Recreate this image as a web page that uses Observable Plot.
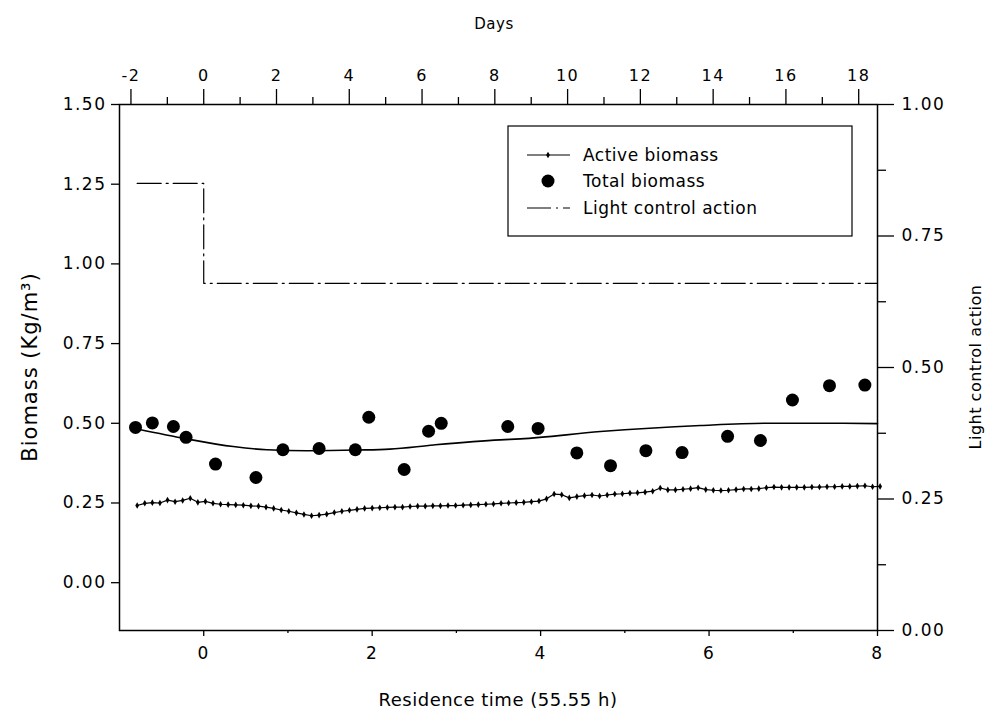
<!DOCTYPE html>
<html><head><meta charset="utf-8">
<script src="https://cdn.jsdelivr.net/npm/d3@7"></script>
<script src="https://cdn.jsdelivr.net/npm/@observablehq/plot@0.6"></script>
<style>
html,body{margin:0;padding:0;background:#fff;}
#chart svg text{letter-spacing:1.5px;}
#chart svg g.titles text, #chart svg g.legend text{letter-spacing:0.5px;}
#chart svg g.titles text.ytitle{letter-spacing:1px;}
</style></head><body><div id="chart"></div>
<script>
// ---- data ----
const hoursPerRT = 55.55;              // one residence time in hours
const activeStartRT = -0.79;           // first active-biomass sample (residence times)
const activeStepRT = 5 / hoursPerRT;   // samples every 5 h
const activeBiomass = [
  0.242,0.249,0.251,0.250,0.259,0.254,0.258,0.265,0.252,0.255,
  0.249,0.246,0.245,0.244,0.243,0.241,0.240,0.237,0.233,0.228,
  0.224,0.219,0.214,0.210,0.212,0.215,0.220,0.224,0.227,0.230,
  0.233,0.234,0.235,0.236,0.237,0.237,0.239,0.240,0.240,0.241,
  0.241,0.242,0.242,0.243,0.244,0.245,0.246,0.247,0.249,0.250,
  0.251,0.252,0.254,0.256,0.263,0.278,0.276,0.266,0.270,0.273,
  0.275,0.272,0.275,0.278,0.279,0.281,0.282,0.284,0.287,0.297,
  0.291,0.291,0.293,0.295,0.298,0.292,0.290,0.289,0.290,0.292,
  0.294,0.294,0.295,0.298,0.300,0.299,0.299,0.299,0.299,0.300,
  0.300,0.301,0.301,0.302,0.302,0.303,0.304,0.301,0.302
];
const totalRT = [-0.81,-0.61,-0.36,-0.21,0.14,0.62,0.94,1.37,1.80,1.96,2.38,2.67,2.82,3.61,3.97,4.43,4.83,5.25,5.68,6.22,6.61,6.99,7.43,7.85];
const totalBiomass = [0.487,0.501,0.490,0.456,0.372,0.330,0.417,0.421,0.417,0.519,0.355,0.475,0.500,0.490,0.484,0.407,0.367,0.414,0.408,0.459,0.446,0.573,0.618,0.620];
const totalFitRT = [-0.79,-0.20,0.35,0.75,1.23,1.82,2.21,2.73,3.52,3.76,4.71,5.90,6.69,7.48,8.00];
const totalFit   = [0.482,0.451,0.427,0.417,0.414,0.416,0.419,0.432,0.448,0.451,0.474,0.493,0.500,0.500,0.499];
const lightRT = [-0.79, 0, 0, 8];
const lightAction = [0.85, 0.85, 0.66, 0.66];
const leftTicks = [0, 0.25, 0.5, 0.75, 1, 1.25, 1.5];
const rightTicks = [0, 0.25, 0.5, 0.75, 1];
const rightMinorTicks = [0.125, 0.375, 0.625, 0.875];
const bottomTicks = [0, 2, 4, 6, 8];
const bottomMinorTicks = [1, 3, 5, 7];
const dayTicks = [-2, 0, 2, 4, 6, 8, 10, 12, 14, 16, 18];
const dayMinorTicks = [-1, 1, 3, 5, 7, 9, 11, 13, 15, 17];
const legendLabels = ["Active biomass", "Total biomass", "Light control action"];
const titles = {left: "Biomass (Kg/m³)", right: "Light control action", bottom: "Residence time (55.55 h)", top: "Days"};

// ---- derived tables ----
const leftDomain = [-0.15, 1.5];
const toLeft = d3.scaleLinear([0, 1], leftDomain); // right axis (light action) -> left units
const rtPerDay = 24 / hoursPerRT;
const activeData = activeBiomass.map((v, i) => ({t: activeStartRT + i * activeStepRT, v}));
const totalData = totalRT.map((t, i) => ({t, v: totalBiomass[i]}));
const fitData = totalFitRT.map((t, i) => ({t, v: totalFit[i]}));
const lightData = lightRT.map((t, i) => ({t, v: lightAction[i]}));
const blank = () => "";
const font = "DejaVu Sans";
const dash = "24,5,2,5";

const chart = Plot.plot({
  width: 987, height: 715,
  marginLeft: 119, marginRight: 110, marginTop: 104, marginBottom: 85,
  x: {domain: [-1, 8]},
  y: {domain: leftDomain},
  style: {fontFamily: font, background: "#fff", color: "#000"},
  marks: [
    Plot.axisY({anchor: "left", ticks: leftTicks, tickFormat: d => d.toFixed(2), tickSize: 8, tickPadding: 5, fontSize: 17, strokeWidth: 1.3, label: null}),
    Plot.axisY({anchor: "right", ticks: rightTicks.map(toLeft), tickFormat: d => toLeft.invert(d).toFixed(2), tickSize: 16, tickPadding: 8, fontSize: 17, strokeWidth: 1.3, label: null}),
    Plot.axisY({anchor: "right", ticks: rightMinorTicks.map(toLeft), tickFormat: blank, tickSize: 8, strokeWidth: 1.3, label: null}),
    Plot.axisX({anchor: "bottom", ticks: bottomTicks, tickFormat: d => String(d), tickSize: 6, tickPadding: 10, fontSize: 17, strokeWidth: 1.3, label: null}),
    Plot.axisX({anchor: "bottom", ticks: bottomMinorTicks, tickFormat: blank, tickSize: 3, strokeWidth: 1.3, label: null}),
    Plot.axisX({anchor: "top", ticks: dayTicks.map(d => d * rtPerDay), tickFormat: d => String(Math.round(d / rtPerDay)), tickSize: 16, tickPadding: 8, fontSize: 16, strokeWidth: 1.3, label: null}),
    Plot.axisX({anchor: "top", ticks: dayMinorTicks.map(d => d * rtPerDay), tickFormat: blank, tickSize: 8, strokeWidth: 1.3, label: null}),
    Plot.frame({stroke: "#000", strokeWidth: 1.5}),
    Plot.line(lightData, {x: "t", y: d => toLeft(d.v), stroke: "#000", strokeWidth: 1.2, strokeDasharray: dash}),
    Plot.line(fitData, {x: "t", y: "v", curve: "monotone-x", stroke: "#000", strokeWidth: 1.6}),
    Plot.line(activeData, {x: "t", y: "v", stroke: "#000", strokeWidth: 1.2}),
    Plot.dot(activeData, {x: "t", y: "v", symbol: "diamond", r: 2, fill: "#000", stroke: "none"}),
    Plot.dot(totalData, {x: "t", y: "v", r: 6.5, fill: "#000", stroke: "none"})
  ]
});

const svg = d3.select(chart);

// ---- axis titles ----
const tg = svg.append("g").attr("class", "titles").attr("font-family", font).attr("fill", "#000").attr("text-anchor", "middle");
tg.append("text").attr("class", "ytitle").attr("transform", "translate(30,367) rotate(-90)").attr("dy", "0.35em").attr("font-size", 21).text(titles.left);
tg.append("text").attr("transform", "translate(975,367) rotate(-90)").attr("dy", "0.35em").attr("font-size", 16).text(titles.right);
tg.append("text").attr("x", 498).attr("y", 700).attr("dy", "0.35em").attr("font-size", 18).text(titles.bottom);
tg.append("text").attr("x", 494).attr("y", 24).attr("dy", "0.35em").attr("font-size", 15).text(titles.top);

// ---- legend (inside the plot frame, top right) ----
const lg = svg.append("g").attr("class", "legend").attr("font-family", font).attr("font-size", 17).attr("text-anchor", "start");
lg.append("rect").attr("x", 508).attr("y", 126).attr("width", 344).attr("height", 110)
  .attr("fill", "#fff").attr("stroke", "#000").attr("stroke-width", 1.2);
const rows = [155, 181, 208];
lg.append("line").attr("x1", 527).attr("x2", 570).attr("y1", rows[0]).attr("y2", rows[0]).attr("stroke", "#000").attr("stroke-width", 1.2);
lg.append("path").attr("d", d3.symbol(d3.symbolDiamond, 2 * 2 * Math.PI)()).attr("transform", `translate(548,${rows[0]})`).attr("fill", "#000");
lg.append("circle").attr("cx", 548).attr("cy", rows[1]).attr("r", 6.5).attr("fill", "#000");
lg.append("line").attr("x1", 527).attr("x2", 570).attr("y1", rows[2]).attr("y2", rows[2]).attr("stroke", "#000").attr("stroke-width", 1.2).attr("stroke-dasharray", dash);
legendLabels.forEach((s, i) => {
  lg.append("text").attr("x", 583).attr("y", rows[i]).attr("dy", "0.35em").attr("fill", "#000").text(s);
});

document.getElementById("chart").appendChild(chart);
</script></body></html>
